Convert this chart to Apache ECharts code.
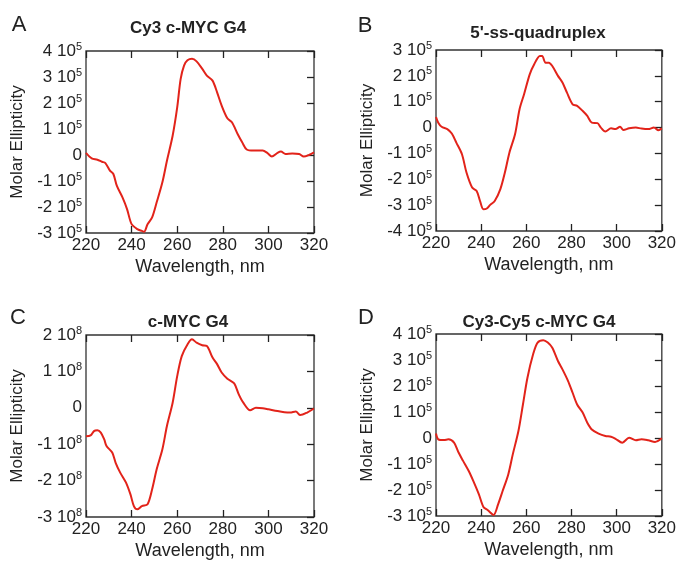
<!DOCTYPE html>
<html>
<head>
<meta charset="utf-8">
<script src="https://cdn.jsdelivr.net/npm/echarts@6/dist/echarts.min.js"></script>
<style>
  html, body { margin: 0; padding: 0; background: #fff; }
  #chart { width: 679px; height: 561px; }
</style>
</head>
<body>
<div id="chart"></div>
<script>
// wavelength ticks (nm)
const xTicks = [220, 240, 260, 280, 300, 320];

// panel A: Cy3 c-MYC G4 (molar ellipticity in units of 10^5)
const wlA = [220, 222.5, 225, 227, 228.5, 230.5, 232, 233.5, 236, 238, 240, 242.5, 244.5, 245.5, 247, 249, 251, 253.5, 255.5, 258, 260, 261.5, 263, 264.5, 266.5, 268.5, 271, 273, 275.5, 277.5, 279.5, 282, 284, 286.5, 288.5, 290.5, 293.5, 297.5, 299.5, 301.5, 304, 305.5, 307.5, 310.5, 313.5, 315.5, 318, 320];
const cdA = [0.08, -0.13, -0.18, -0.26, -0.31, -0.6, -0.73, -1.18, -1.63, -2.08, -2.66, -2.85, -2.92, -2.95, -2.66, -2.4, -1.82, -1.05, -0.22, 0.74, 1.83, 2.92, 3.44, 3.64, 3.7, 3.6, 3.31, 3.05, 2.86, 2.41, 1.9, 1.41, 1.26, 0.81, 0.49, 0.21, 0.17, 0.17, 0.08, -0.06, 0.08, 0.13, 0.04, 0.06, 0.04, -0.06, 0.01, 0.1];

// panel B: 5'-ss-quadruplex (10^5)
const wlB = [220, 221, 222.5, 225, 227, 229, 231.5, 233.5, 236, 238, 239.5, 241, 242.5, 244, 246, 248.5, 250.5, 252.5, 255, 257, 259, 261.5, 263.5, 266, 267, 268.5, 270, 271.5, 274, 276, 278, 280.5, 282.5, 285, 287, 289, 291.5, 293, 295, 297.5, 299.5, 301.5, 303, 305.5, 308.5, 311, 314, 316.5, 318.5, 320];
const cdB = [0.41, 0.19, 0.03, -0.06, -0.23, -0.58, -1.03, -1.74, -2.32, -2.45, -2.84, -3.16, -3.13, -2.99, -2.84, -2.38, -1.74, -0.97, -0.26, 0.71, 1.29, 2.06, 2.45, 2.77, 2.77, 2.51, 2.51, 2.38, 2.0, 1.74, 1.35, 0.9, 0.84, 0.64, 0.45, 0.19, 0.17, 0.0, -0.15, -0.03, -0.06, 0.03, -0.09, -0.03, 0.0, -0.04, -0.06, 0.0, -0.1, -0.03];

// panel C: c-MYC G4 (10^8)
const wlC = [220, 222, 223.5, 225, 226.5, 228, 229, 231.5, 233, 235, 237.5, 239.5, 241, 242.5, 244.5, 247, 249, 251, 253.5, 255.5, 258, 260, 262, 264.5, 266.5, 268.5, 271, 273, 275.5, 277.5, 279.5, 282, 285, 287, 289, 292, 294.5, 297.5, 300, 304, 307, 309.5, 312, 314, 317, 320];
const cdC = [-0.78, -0.76, -0.64, -0.62, -0.68, -0.87, -1.05, -1.23, -1.51, -1.78, -2.05, -2.38, -2.7, -2.79, -2.7, -2.65, -2.24, -1.69, -1.14, -0.5, 0.14, 0.87, 1.42, 1.74, 1.88, 1.79, 1.72, 1.7, 1.38, 1.2, 0.97, 0.8, 0.67, 0.37, 0.14, -0.07, 0.0, -0.01, -0.04, -0.09, -0.12, -0.13, -0.1, -0.2, -0.13, -0.02];

// panel D: Cy3-Cy5 c-MYC G4 (10^5)
const wlD = [220, 221, 223.5, 225.5, 228, 230, 232, 234.5, 236.5, 239, 241, 243, 245.5, 247.5, 249.5, 252, 254, 256.5, 258.5, 260.5, 263, 265, 267.5, 269.5, 271.5, 274, 276, 278.5, 280.5, 282.5, 285, 287, 289, 292, 295, 297.5, 299.5, 302.5, 305.5, 308.5, 311, 314, 317, 320];
const cdD = [0.17, -0.05, -0.08, -0.05, -0.18, -0.56, -0.88, -1.27, -1.65, -2.17, -2.65, -2.78, -2.96, -2.55, -2.04, -1.4, -0.63, 0.27, 1.29, 2.32, 3.22, 3.67, 3.76, 3.67, 3.47, 2.96, 2.64, 2.19, 1.74, 1.29, 0.97, 0.59, 0.33, 0.17, 0.08, 0.05, -0.03, -0.18, 0.01, -0.09, -0.05, -0.09, -0.15, -0.01];

const titles = ['Cy3 c-MYC G4', "5'-ss-quadruplex", 'c-MYC G4', 'Cy3-Cy5 c-MYC G4'];
const letters = ['A', 'B', 'C', 'D'];
const exps = [5, 5, 8, 5];
const yMin = [-3, -4, -3, -3];
const yMax = [4, 3, 2, 4];
const waves = [wlA, wlB, wlC, wlD];
const values = [cdA, cdB, cdC, cdD];

const FONT = '"Liberation Sans", Arial, sans-serif';
const INK = '#222';
const RED = '#e2231a';

const grids = [
  { left: 86, top: 51, width: 228, height: 182 },
  { left: 436, top: 50, width: 228, height: 181 },
  { left: 86, top: 335, width: 228, height: 183 },
  { left: 436, top: 334, width: 228, height: 182 }
];
const titlePos = [[188, 28], [538, 33], [188, 322], [539, 322]];
const letterPos = [[19, 25], [365, 26], [18, 318], [366, 318]];

const chart = echarts.init(document.getElementById('chart'), null, { renderer: 'canvas' });

const xAxes = [], yAxes = [], series = [], graphics = [];
grids.forEach((g, i) => {
  const tick = { show: true, inside: true, length: 7, lineStyle: { color: INK, width: 1.3 } };
  const noLine = { show: false, onZero: false };
  // bottom axis with labels
  xAxes.push({
    gridIndex: i, type: 'value', min: 220, max: 320, interval: 20, position: 'bottom',
    name: 'Wavelength, nm', nameLocation: 'middle', nameGap: 25,
    nameTextStyle: { fontFamily: FONT, fontSize: 18, color: INK },
    axisLine: noLine, splitLine: { show: false }, axisTick: tick,
    axisLabel: { fontFamily: FONT, fontSize: 17, color: INK, margin: 4 }
  });
  // top axis: ticks only
  xAxes.push({
    gridIndex: i, type: 'value', min: 220, max: 320, interval: 20, position: 'top',
    axisLine: noLine, splitLine: { show: false }, axisTick: tick,
    axisLabel: { show: false }
  });
  const e = exps[i];
  yAxes.push({
    gridIndex: i, type: 'value', min: yMin[i], max: yMax[i], interval: 1, position: 'left',
    name: 'Molar Ellipticity', nameLocation: 'middle', nameGap: 60,
    nameTextStyle: { fontFamily: FONT, fontSize: 17, color: INK },
    axisLine: noLine, splitLine: { show: false }, axisTick: { show: false },
    axisLabel: {
      margin: 4,
      formatter: v => v === 0 ? '{n|0}' : '{n|' + v + ' 10}{s|' + e + '}',
      rich: {
        n: { fontFamily: FONT, fontSize: 17, color: INK, lineHeight: 20 },
        s: { fontFamily: FONT, fontSize: 11, color: INK, lineHeight: 12, verticalAlign: 'top' }
      }
    }
  });
  // right axis: ticks only
  yAxes.push({
    gridIndex: i, type: 'value', min: yMin[i], max: yMax[i], interval: 1, position: 'right',
    axisLine: noLine, splitLine: { show: false }, axisTick: tick,
    axisLabel: { show: false }
  });
  series.push({
    type: 'line', xAxisIndex: i * 2, yAxisIndex: i * 2, showSymbol: false, smooth: 0.3,
    data: waves[i].map((w, k) => [w, values[i][k]]),
    lineStyle: { color: RED, width: 2 }, z: 3
  });
  graphics.push({
    type: 'text', x: titlePos[i][0], y: titlePos[i][1],
    style: { text: titles[i], font: 'bold 17px ' + FONT, fill: INK, textAlign: 'center', textVerticalAlign: 'middle' }
  });
  graphics.push({
    type: 'text', x: letterPos[i][0], y: letterPos[i][1],
    style: { text: letters[i], font: '22px ' + FONT, fill: INK, textAlign: 'center', textVerticalAlign: 'middle' }
  });
});

chart.setOption({
  animation: false,
  backgroundColor: '#fff',
  grid: grids.map(g => Object.assign({ show: true, borderColor: '#333', borderWidth: 1.3, backgroundColor: 'transparent' }, g)),
  xAxis: xAxes,
  yAxis: yAxes,
  series: series,
  graphic: graphics
});
</script>
</body>
</html>
